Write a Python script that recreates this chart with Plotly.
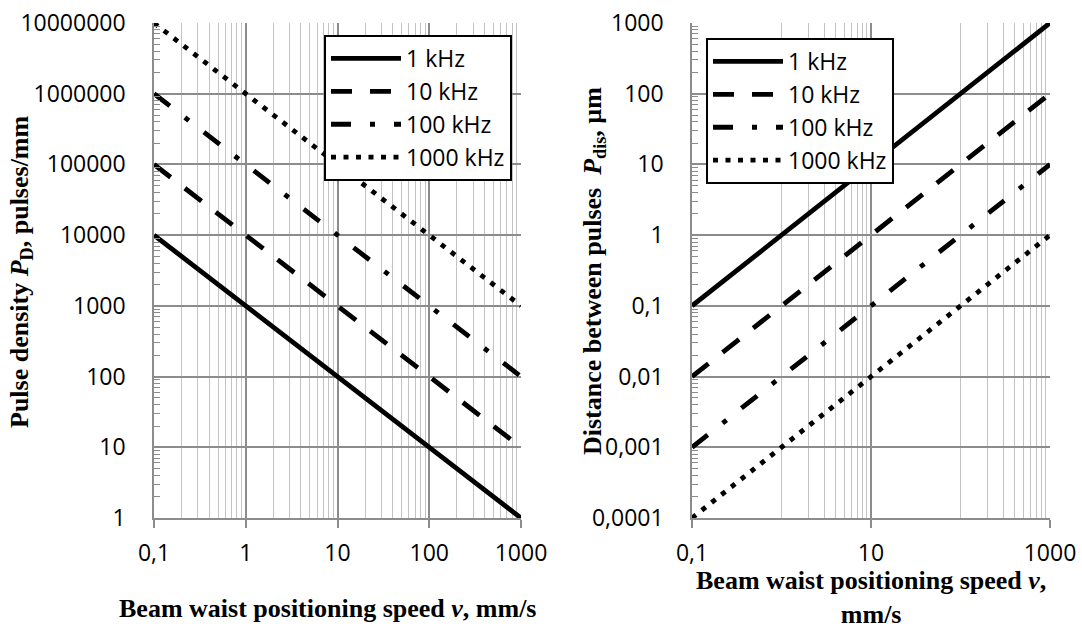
import plotly.graph_objects as go

# ---------------- data ----------------
speed = [0.1, 1, 10, 100, 1000]                       # mm/s
series_names = ["1 kHz", "10 kHz", "100 kHz", "1000 kHz"]

density_1khz = [10000, 1000, 100, 10, 1]
density_10khz = [100000, 10000, 1000, 100, 10]
density_100khz = [1000000, 100000, 10000, 1000, 100]
density_1000khz = [10000000, 1000000, 100000, 10000, 1000]

distance_1khz = [0.1, 1, 10, 100, 1000]
distance_10khz = [0.01, 0.1, 1, 10, 100]
distance_100khz = [0.001, 0.01, 0.1, 1, 10]
distance_1000khz = [0.0001, 0.001, 0.01, 0.1, 1]

left_x_tickvals = [0.1, 1, 10, 100, 1000]
left_x_ticktext = ["0,1", "1", "10", "100", "1000"]
right_x_tickvals = [0.1, 10, 1000]
right_x_ticktext = ["0,1", "10", "1000"]
left_y_tickvals = [1, 10, 100, 1000, 10000, 100000, 1000000, 10000000]
left_y_ticktext = ["1", "10", "100", "1000", "10000", "100000", "1000000", "10000000"]
right_y_tickvals = [0.0001, 0.001, 0.01, 0.1, 1, 10, 100, 1000]
right_y_ticktext = ["0,0001", "0,001", "0,01", "0,1", "1", "10", "100", "1000"]

# ---------------- styling ----------------
W, H = 1082, 626
TICK_FONT = dict(family="Open Sans", size=23, color="#000000")
TITLE_FONT = dict(family="Liberation Serif", size=26, color="#000000")
MAJOR_GRID = "#8c8c8c"
MINOR_GRID = "#c3c3c3"
LW = 4.8
dashes = ["solid", "21px,18px", "20px,19px,5px,19px", "5px,7.5px"]

def minor_vals(lo_exp, hi_exp):
    vals = []
    for e in range(lo_exp, hi_exp):
        for m in range(2, 10):
            vals.append(m * 10.0 ** e)
    return vals

fig = go.Figure()

left_series = [density_1khz, density_10khz, density_100khz, density_1000khz]
right_series = [distance_1khz, distance_10khz, distance_100khz, distance_1000khz]

for i, (name, ys) in enumerate(zip(series_names, left_series)):
    fig.add_trace(go.Scatter(
        x=speed, y=ys, mode="lines", name=name,
        line=dict(color="black", width=LW, dash=dashes[i]),
        xaxis="x", yaxis="y", legend="legend", legendgroup="L%d" % i,
        showlegend=True, cliponaxis=False))

for i, (name, ys) in enumerate(zip(series_names, right_series)):
    fig.add_trace(go.Scatter(
        x=speed, y=ys, mode="lines", name=name,
        line=dict(color="black", width=LW, dash=dashes[i]),
        xaxis="x2", yaxis="y2", legend="legend2", legendgroup="R%d" % i,
        showlegend=True, cliponaxis=False))

y_dom = [1 - 518 / H, 1 - 23 / H]

common_x = dict(
    type="log", showline=True, linecolor=MAJOR_GRID, linewidth=1.5,
    showgrid=True, gridcolor=MAJOR_GRID, gridwidth=1.5,
    ticks="outside", ticklen=8, tickcolor=MAJOR_GRID, tickwidth=1.5,
    tickfont=TICK_FONT, zeroline=False, tickmode="array",
    ticklabelstandoff=6, automargin=False,
)
common_y = dict(
    type="log", showline=True, linecolor=MAJOR_GRID, linewidth=1.5,
    showgrid=True, gridcolor=MAJOR_GRID, gridwidth=1.5,
    ticks="", tickfont=TICK_FONT, zeroline=False, tickmode="array",
    ticklabelstandoff=22, automargin=False,
)

fig.update_layout(
    width=W, height=H,
    margin=dict(l=0, r=0, t=0, b=0, autoexpand=False),
    paper_bgcolor="white", plot_bgcolor="white",
    xaxis=dict(common_x, domain=[154 / W, 521 / W], anchor="y",
               range=[-1, 3], tickvals=left_x_tickvals, ticktext=left_x_ticktext,
               minor=dict(tickmode="array", tickvals=minor_vals(-1, 3),
                          showgrid=True, gridcolor=MINOR_GRID, gridwidth=1.3, ticks="")),
    yaxis=dict(common_y, domain=y_dom, anchor="x",
               range=[0, 7], tickvals=left_y_tickvals, ticktext=left_y_ticktext,
               minor=dict(tickmode="array", tickvals=minor_vals(0, 7),
                          showgrid=False, ticks="inside", ticklen=6,
                          tickcolor=MAJOR_GRID, tickwidth=1.3)),
    xaxis2=dict(common_x, domain=[692 / W, 1050 / W], anchor="y2",
                range=[-1, 3], tickvals=right_x_tickvals, ticktext=right_x_ticktext,
                minor=dict(tickmode="array",
                           tickvals=[1, 2, 3, 4, 5, 6, 7, 8, 9, 100, 200, 300, 400, 500, 600, 700, 800, 900],
                           showgrid=True, gridcolor=MINOR_GRID, gridwidth=1.3, ticks="")),
    yaxis2=dict(common_y, domain=y_dom, anchor="x2",
                range=[-4, 3], tickvals=right_y_tickvals, ticktext=right_y_ticktext,
                minor=dict(tickmode="array", tickvals=minor_vals(-4, 3),
                           showgrid=False, ticks="inside", ticklen=6,
                           tickcolor=MAJOR_GRID, tickwidth=1.3)),
    legend=dict(x=324 / W, y=1 - 35 / H, xanchor="left", yanchor="top",
                bgcolor="white", bordercolor="black", borderwidth=2,
                font=TICK_FONT, itemwidth=70, tracegroupgap=14,
                traceorder="normal"),
    legend2=dict(x=706 / W, y=1 - 38 / H, xanchor="left", yanchor="top",
                 bgcolor="white", bordercolor="black", borderwidth=2,
                 font=TICK_FONT, itemwidth=70, tracegroupgap=8,
                 traceorder="normal"),
    annotations=[
        dict(text="<b>Pulse density <i>P</i><sub>D</sub>, pulses/mm</b>",
             xref="paper", yref="paper", x=21 / W, y=1 - 272 / H,
             textangle=-90, showarrow=False, font=TITLE_FONT,
             xanchor="center", yanchor="middle"),
        dict(text="<b>Distance between pulses\u00a0 <i>P</i><sub>dis</sub>, µm</b>",
             xref="paper", yref="paper", x=594 / W, y=1 - 271 / H,
             textangle=-90, showarrow=False, font=TITLE_FONT,
             xanchor="center", yanchor="middle"),
        dict(text="<b>Beam waist positioning speed <i>v</i>, mm/s</b>",
             xref="paper", yref="paper", x=327 / W, y=1 - 608 / H,
             showarrow=False, font=TITLE_FONT, xanchor="center", yanchor="middle"),
        dict(text="<b>Beam waist positioning speed <i>v</i>,<br>mm/s</b>",
             xref="paper", yref="paper", x=871 / W, y=1 - 597 / H,
             showarrow=False, font=TITLE_FONT, xanchor="center", yanchor="middle"),
    ],
)

fig.write_html("out.html")
